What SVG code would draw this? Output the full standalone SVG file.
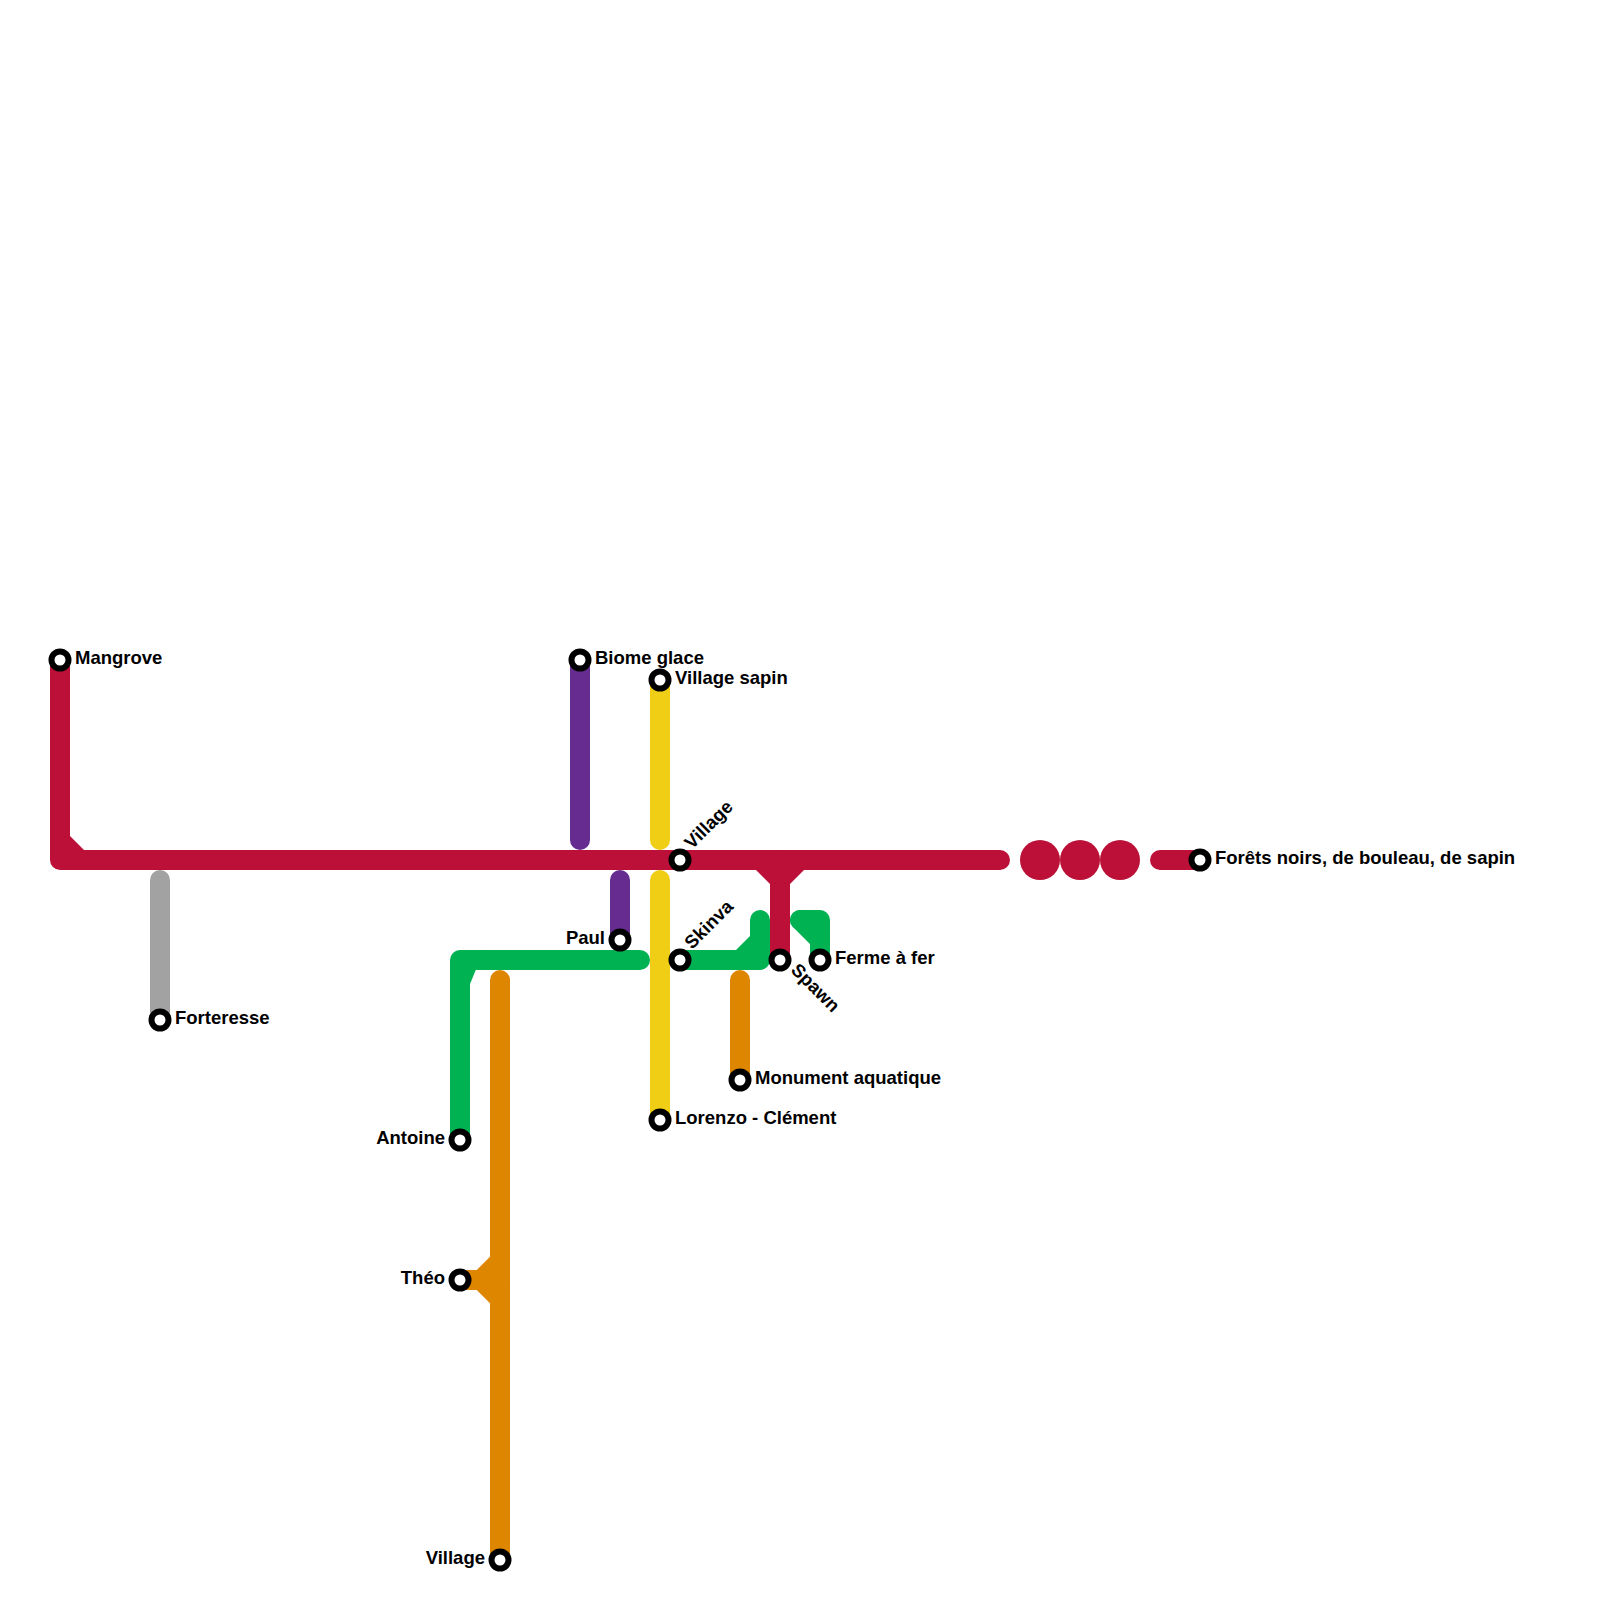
<svg xmlns="http://www.w3.org/2000/svg" width="1600" height="1600" viewBox="0 0 1600 1600">
<style>
.l{fill:none;stroke-width:20;stroke-linecap:round;stroke-linejoin:round}
.red{stroke:#BD1038}.grn{stroke:#00B251}.yel{stroke:#F0CE15}.pur{stroke:#662C90}.org{stroke:#DF8600}.gry{stroke:#A2A2A2}
.fr{fill:#BD1038}.fg{fill:#00B251}.fo{fill:#DF8600}
.s{fill:#fff;stroke:#000;stroke-width:6}
text{font-family:"Liberation Sans",Arial,sans-serif;font-weight:700;font-size:18.5px;fill:#000}
.e{text-anchor:end}
</style>
<rect width="1600" height="1600" fill="#fff"/>
<g id="connectors">
<path class="l gry" d="M160 880V1020"/>
<path class="l pur" d="M580 660V840"/>
<path class="l pur" d="M620 880V940"/>
<path class="l org" d="M500 980V1560"/>
<path class="l org" d="M740 980V1080"/>
<path class="l org" d="M460 1280H500"/>
<path class="fo" d="M476.700 1270L490 1256.700V1303.300L476.700 1290Z"/>
<path class="l grn" d="M460 1140V960H640"/>
<path class="fg" d="M470 950H484L470 984Z"/>
<path class="l grn" d="M680 960H760V920"/>
<path class="fg" d="M750 936L736 950H750Z"/>
<path class="l grn" d="M800 920H820V960"/>
<path class="l grn" d="M800 920L820 940"/>
<path class="l yel" d="M660 680V840"/>
<path class="l yel" d="M660 880V1120"/>
<path class="l red" d="M60 660V860H1000"/>
<path class="fr" d="M70 836L84 850H70Z"/>
<path class="l red" d="M780 860V960"/>
<path class="fr" d="M756 870H804L790 884H770Z"/>
<path class="l red" d="M1160 860H1200"/>
<circle class="fr" cx="1040" cy="860" r="20"/>
<circle class="fr" cx="1080" cy="860" r="20"/>
<circle class="fr" cx="1120" cy="860" r="20"/>
</g>
<g id="mangrove"><circle class="s" cx="60" cy="660" r="8.5"/><text x="75" y="664">Mangrove</text></g>
<g id="forteresse"><circle class="s" cx="160" cy="1020" r="8.5"/><text x="175" y="1024">Forteresse</text></g>
<g id="biome-glace"><circle class="s" cx="580" cy="660" r="8.5"/><text x="595" y="664">Biome glace</text></g>
<g id="village-sapin"><circle class="s" cx="660" cy="680" r="8.5"/><text x="675" y="684">Village sapin</text></g>
<g id="village-nord"><circle class="s" cx="680" cy="860" r="8.500"/><text transform="translate(692 850) rotate(-45)">Village</text></g>
<g id="skinva"><circle class="s" cx="680" cy="960" r="8.500"/><text transform="translate(692 950) rotate(-45)">Skinva</text></g>
<g id="spawn"><circle class="s" cx="780" cy="960" r="8.500"/><text transform="translate(790 971) rotate(45)">Spawn</text></g>
<g id="ferme"><circle class="s" cx="820" cy="960" r="8.500"/><text x="835" y="964">Ferme à fer</text></g>
<g id="paul"><circle class="s" cx="620" cy="940" r="8.500"/><text class="e" x="605" y="944">Paul</text></g>
<g id="monument"><circle class="s" cx="740" cy="1080" r="8.500"/><text x="755" y="1084">Monument aquatique</text></g>
<g id="lorenzo"><circle class="s" cx="660" cy="1120" r="8.500"/><text x="675" y="1124">Lorenzo - Clément</text></g>
<g id="antoine"><circle class="s" cx="460" cy="1140" r="8.500"/><text class="e" x="445" y="1144">Antoine</text></g>
<g id="theo"><circle class="s" cx="460" cy="1280" r="8.500"/><text class="e" x="445" y="1284">Théo</text></g>
<g id="village-sud"><circle class="s" cx="500" cy="1560" r="8.500"/><text class="e" x="485" y="1564">Village</text></g>
<g id="forets"><circle class="s" cx="1200" cy="860" r="8.500"/><text x="1215" y="864">Forêts noirs, de bouleau, de sapin</text></g>
</svg>
